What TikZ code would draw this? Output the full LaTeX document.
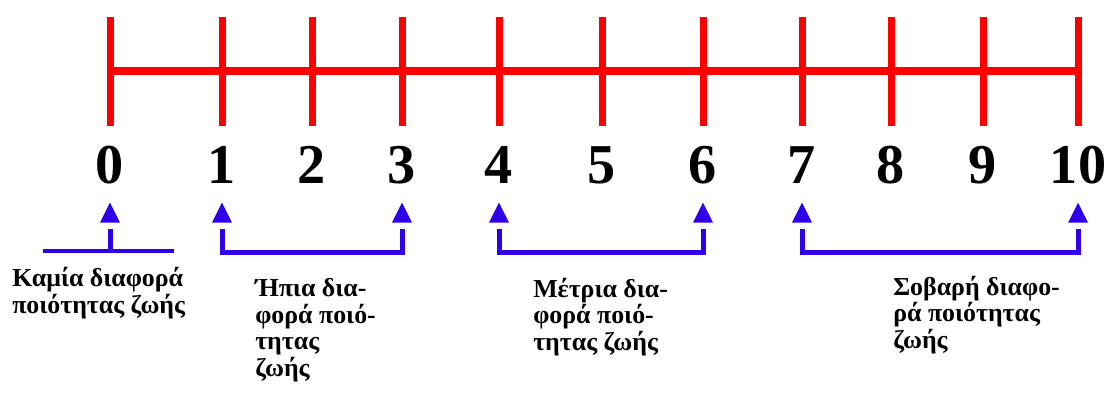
\documentclass[tikz,border=0pt]{standalone}
\usepackage{fontspec}
\setmainfont{Liberation Serif}
\usetikzlibrary{shapes.geometric}
\definecolor{scalered}{RGB}{255,0,0}
\definecolor{scaleblue}{RGB}{48,0,235}

\begin{document}
\begin{tikzpicture}[x=0.025cm,y=-0.025cm,
    tick/.style={scalered,line width=0.175cm},
    num/.style={font=\bfseries\fontsize{40}{40}\selectfont,anchor=base,inner sep=0pt},
    marker/.style={isosceles triangle,isosceles triangle stretches,shape border rotate=90,
      fill=scaleblue,minimum width=0.5cm,minimum height=0.5cm,inner sep=0pt,anchor=south},
    bracket/.style={scaleblue,line width=0.125cm},
    label/.style={font=\bfseries\fontsize{18.4}{18.8}\selectfont,align=left,anchor=base west,inner sep=0pt}]
    \useasboundingbox (0,0) rectangle (1109,394);
    % scale
    \draw[tick] (110,71) -- (1078,71);
    \foreach \x/\n in {110/0,222/1,312/2,402/3,499/4,602/5,703/6,802/7,891/8,983/9,1078/10}{
      \draw[tick] (\x,17) -- (\x,126);
      \node[num] (n\n) at (\x,183) {\n};
    }
    % markers under the scale
    \foreach \n in {0,1,3,4,6,7,10}{
      \node[marker] (m\n) at (n\n.base |- 0,223) {};
    }
    \draw[bracket] ([yshift=-0.15cm]m0.south) -- ++(0,21);
    \draw[scaleblue,line width=0.08cm] (43,251) -- (174,251);
    \draw[bracket] ([yshift=-0.15cm]m1.south) -- ++(0,23) -| ([yshift=-0.15cm]m3.south);
    \draw[bracket] ([yshift=-0.15cm]m4.south) -- ++(0,23) -| ([yshift=-0.15cm]m6.south);
    \draw[bracket] ([yshift=-0.15cm]m7.south) -- ++(0,23) -| ([yshift=-0.15cm]m10.south);
    % texts (anchored at the baseline of their last line)
    \node[label] (none) at (12,313) {Καμία διαφορά\\ποιότητας ζωής};
    \node[label] (mild) at (255,376) {Ήπια δια-\\φορά ποιό-\\τητας\\ζωής};
    \node[label] (moderate) at (533,350) {Μέτρια δια-\\φορά ποιό-\\τητας ζωής};
    \node[label] (severe) at (893,348) {Σοβαρή διαφο-\\ρά ποιότητας\\ζωής};
\end{tikzpicture}
\end{document}
